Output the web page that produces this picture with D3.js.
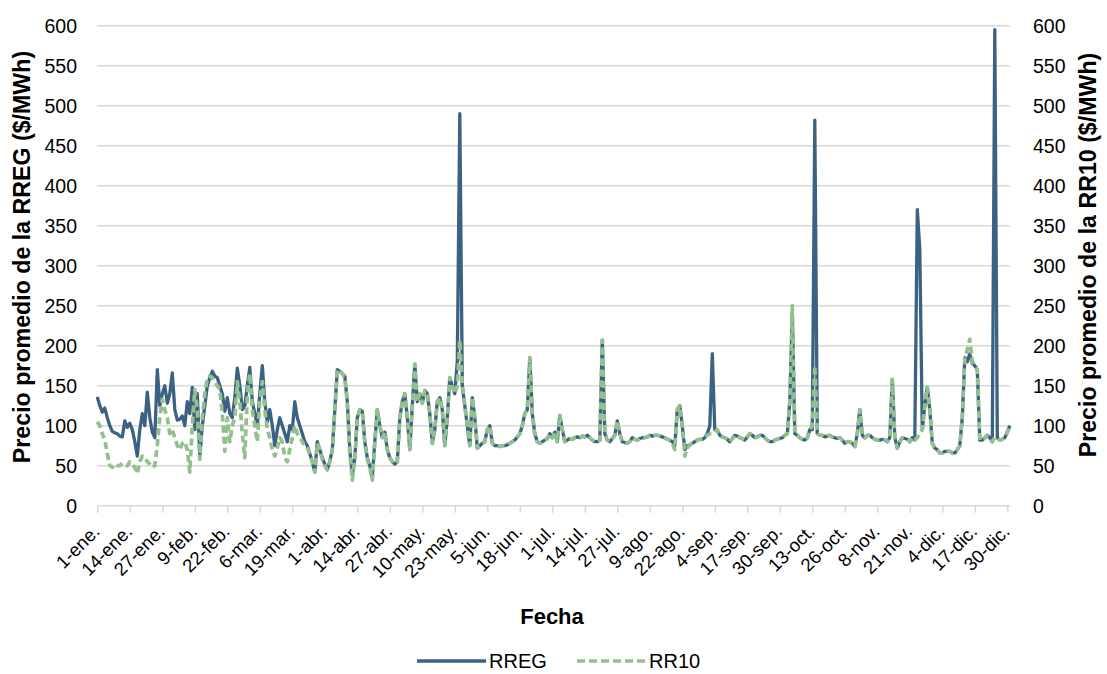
<!DOCTYPE html>
<html><head><meta charset="utf-8">
<script src="https://cdn.jsdelivr.net/npm/d3@7"></script>
<style>
body{margin:0;background:#fff}
svg text{font-family:"Liberation Sans",Arial,sans-serif;fill:#000}
</style>
</head><body>
<svg id="chart" width="1107" height="674"></svg>
<script>
// ---- data (leap year, daily, day index 0 = 1-ene.) ----
const tickLabels = ["1-ene.","14-ene.","27-ene.","9-feb.","22-feb.","6-mar.","19-mar.","1-abr.","14-abr.","27-abr.","10-may.","23-may.","5-jun.","18-jun.","1-jul.","14-jul.","27-jul.","9-ago.","22-ago.","4-sep.","17-sep.","30-sep.","13-oct.","26-oct.","8-nov.","21-nov.","4-dic.","17-dic.","30-dic."];
const tickDays = [0,13,26,39,52,65,78,91,104,117,130,143,156,169,182,195,208,221,234,247,260,273,286,299,312,325,338,351,364];
const yTicks = [0,50,100,150,200,250,300,350,400,450,500,550,600];
const seriesNames = ["RREG","RR10"];

const rreg = [
136,125,117,122,110,100,93,91,90,87,
86,106,98,103,95,80,62,95,115,100,
142,110,92,85,170,125,140,150,128,140,
166,120,107,108,112,100,130,115,148,95,
140,62,100,125,150,160,168,162,160,150,
140,118,135,115,110,135,172,150,120,125,
150,173,130,115,100,140,175,130,105,120,
100,75,95,110,100,90,80,100,95,130,
110,100,90,80,75,65,55,42,80,70,
60,52,45,55,70,120,170,168,165,162,
130,70,38,60,110,120,118,80,60,50,
35,80,120,100,85,92,70,60,55,52,
55,110,130,140,110,70,125,177,130,140,
128,144,140,115,78,95,130,135,120,75,
110,160,150,140,180,490,150,125,100,75,
135,110,72,75,78,80,95,100,78,75,
75,74,75,75,76,78,80,82,86,90,
100,115,120,185,115,90,80,78,80,82,
84,90,85,92,80,113,95,80,82,84,
83,85,86,85,87,86,88,85,82,80,
80,82,207,90,82,80,84,88,106,90,
80,79,78,80,85,83,82,84,85,85,
86,88,87,88,88,87,86,85,83,82,
80,75,120,125,100,70,75,76,78,80,
82,83,83,85,90,100,190,95,95,88,
86,85,83,80,84,88,87,85,84,82,
86,90,88,85,86,88,88,85,82,80,
80,82,83,84,85,88,90,130,240,90,
88,85,83,82,85,95,95,482,90,88,
88,86,87,88,86,85,84,85,82,78,
80,80,78,74,90,120,88,85,88,88,
85,83,82,82,83,82,80,85,158,85,
72,80,85,84,83,80,85,82,370,320,
95,125,148,120,78,72,70,66,66,68,
68,68,66,66,70,75,110,185,180,190,
178,175,170,82,82,85,88,85,80,595,
85,82,83,85,92,100];

const rr10 = [
105,100,90,82,65,50,48,52,50,50,
53,52,50,55,52,48,40,55,62,60,
55,52,48,50,75,110,133,120,110,90,
95,85,75,70,78,80,70,42,100,145,
120,58,110,140,160,162,160,155,150,145,
115,68,110,80,100,110,155,130,90,60,
140,165,120,100,80,130,155,120,95,85,
70,62,72,85,80,60,55,70,85,100,
90,85,80,75,72,65,55,42,78,70,
58,50,45,55,70,120,170,168,165,160,
128,65,32,58,110,120,118,78,58,48,
32,78,120,100,85,92,70,60,55,52,
55,110,130,140,110,70,125,177,130,140,
128,144,140,115,78,95,130,135,120,75,
110,160,150,140,150,207,150,125,100,75,
135,110,72,75,78,80,95,100,78,75,
75,74,75,75,76,78,80,82,86,90,
100,115,120,185,115,90,80,78,80,82,
84,90,85,92,80,113,95,80,82,84,
83,85,86,85,87,86,88,85,82,80,
80,82,207,90,82,80,84,88,106,90,
80,79,78,80,85,83,82,84,85,85,
86,88,87,88,88,87,86,85,83,82,
78,70,120,125,98,62,72,76,78,80,
82,83,83,85,88,90,90,92,95,88,
86,85,83,80,84,88,87,85,84,82,
86,90,88,85,86,88,88,85,82,80,
80,82,83,84,85,88,90,130,250,90,
88,85,83,82,85,95,100,175,90,88,
88,86,87,88,86,85,84,85,82,78,
80,80,78,74,90,120,88,85,88,88,
85,83,82,82,83,82,80,85,158,85,
72,80,85,84,83,80,85,82,85,90,
95,125,148,120,78,72,70,66,66,68,
68,68,66,66,70,75,110,185,195,208,
180,175,170,82,82,85,88,85,80,85,
85,82,83,85,92,100];

// ---- layout ----
const blue = "#3c6283", green = "#93c08d", grid = "#d9d9d9";
const svg = d3.select("#chart");
const x = d3.scaleLinear().domain([0, 364]).range([97.3, 1007.3]);
const yL = d3.scaleLinear().domain([0, 600]).range([505.7, 25.7]);
const yR = d3.scaleLinear().domain([0, 600]).range([505.7, 25.7]);
const lastDay = rreg.length - 1;

// gridlines
svg.append("g").selectAll("line").data(yTicks.filter(d => d > 0)).join("line")
  .attr("x1", x(0)).attr("x2", x(lastDay))
  .attr("y1", d => yL(d)).attr("y2", d => yL(d))
  .attr("stroke", grid).attr("stroke-width", 1.5);

// bottom axis
const xAxis = d3.axisBottom(x).tickValues(tickDays).tickSize(7)
  .tickFormat((d, i) => tickLabels[i]);
const gx = svg.append("g").attr("transform", `translate(0,${yL(0)})`).call(xAxis);
gx.select(".domain").remove();
gx.append("line").attr("x1", x(0)).attr("x2", x(lastDay)).attr("y1", 0).attr("y2", 0)
  .attr("stroke", grid).attr("stroke-width", 1.5);
gx.selectAll(".tick line").attr("stroke", grid).attr("stroke-width", 1.5);
gx.selectAll(".tick text")
  .attr("font-size", 18.5).attr("fill", "#000")
  .attr("text-anchor", "end")
  .attr("x", 0).attr("y", 0).attr("dy", 0)
  .attr("transform", "translate(3,27) rotate(-45)");

// left axis labels
svg.append("g").selectAll("text").data(yTicks).join("text")
  .attr("x", 77).attr("y", d => yL(d)).attr("dy", "0.36em")
  .attr("text-anchor", "end").attr("font-size", 19.5).text(d => d);
// right axis labels
svg.append("g").selectAll("text").data(yTicks).join("text")
  .attr("x", 1033).attr("y", d => yR(d)).attr("dy", "0.36em")
  .attr("text-anchor", "start").attr("font-size", 19.5).text(d => d);

// axis titles
svg.append("text").attr("transform", "translate(30,257) rotate(-90)")
  .attr("text-anchor", "middle").attr("font-weight", "bold").attr("font-size", 23.2)
  .text("Precio promedio de la RREG ($/MWh)");
svg.append("text").attr("transform", "translate(1096,255) rotate(-90)")
  .attr("text-anchor", "middle").attr("font-weight", "bold").attr("font-size", 23.2)
  .text("Precio promedio de la RR10 ($/MWh)");
svg.append("text").attr("x", 552).attr("y", 624)
  .attr("text-anchor", "middle").attr("font-weight", "bold").attr("font-size", 22)
  .text("Fecha");

// lines
const lineL = d3.line().x((d, i) => x(i)).y(d => yL(d));
const lineR = d3.line().x((d, i) => x(i)).y(d => yR(d));
svg.append("path").datum(rreg).attr("d", lineL)
  .attr("fill", "none").attr("stroke", blue).attr("stroke-width", 3.3)
  .attr("stroke-linejoin", "round");
svg.append("path").datum(rr10).attr("d", lineR)
  .attr("fill", "none").attr("stroke", green).attr("stroke-width", 3.7)
  .attr("stroke-dasharray", "7,4").attr("stroke-linejoin", "round");

// legend
const leg = svg.append("g");
const legItems = [
  {name: seriesNames[0], color: blue, dash: null, x0: 417},
  {name: seriesNames[1], color: green, dash: "8,4", x0: 577}
];
legItems.forEach(it => {
  leg.append("line").attr("x1", it.x0).attr("x2", it.x0 + 69).attr("y1", 661).attr("y2", 661)
    .attr("stroke", it.color).attr("stroke-width", 3.7)
    .attr("stroke-dasharray", it.dash);
  leg.append("text").attr("x", it.x0 + 72).attr("y", 668).attr("font-size", 20).text(it.name);
});
</script>
</body></html>
